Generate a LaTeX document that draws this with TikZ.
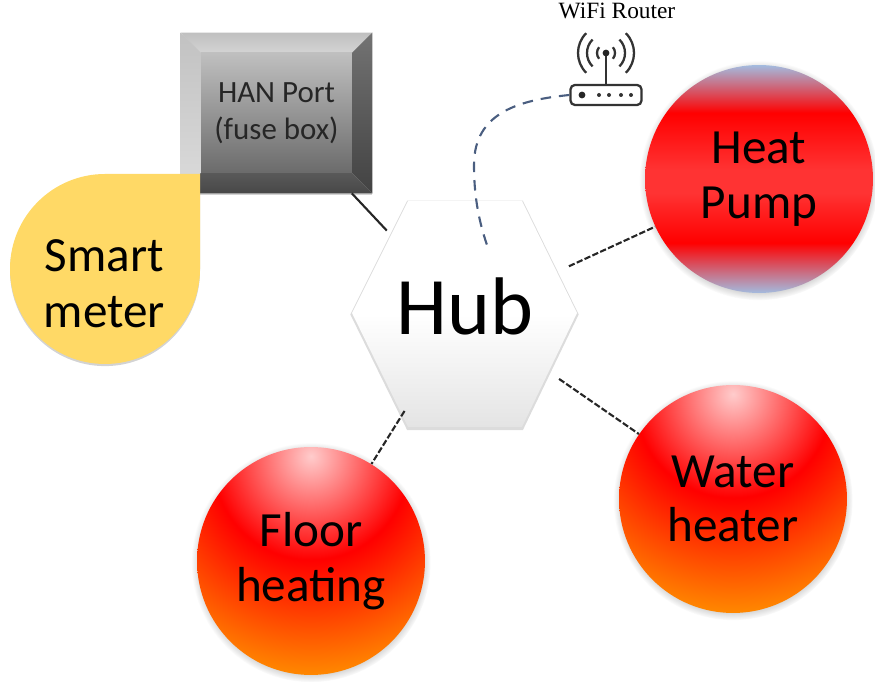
\documentclass[tikz,border=0pt]{standalone}
\usepackage{fontspec}
\setmainfont{Carlito}
\newfontfamily\routerfont{Liberation Serif}
\usetikzlibrary{shadows}
\definecolor{wifiblue}{HTML}{4A5E80}
\definecolor{meteryellow}{HTML}{FFD966}
\definecolor{pumpblue}{HTML}{A3BBDF}
\definecolor{pumpred}{HTML}{FF0000}
\definecolor{pumplight}{HTML}{FF3333}
\definecolor{ballpink}{HTML}{FFCCCC}
\definecolor{ballorange}{HTML}{FF8800}
\definecolor{hubgray}{HTML}{E4E4E4}
\pgfdeclareradialshading{heatball}{\pgfpoint{0bp}{23bp}}{color(0bp)=(ballpink);color(21.5bp)=(pumpred);color(45.4bp)=(ballorange);color(400bp)=(ballorange)}
\pgfdeclareverticalshading{pumpband}{100bp}{color(0bp)=(pumpblue);color(25bp)=(pumpblue);color(36bp)=(pumpred);color(47bp)=(pumplight);color(52bp)=(pumplight);color(64.5bp)=(pumpred);color(75bp)=(pumpblue);color(100bp)=(pumpblue)}
\pgfdeclareverticalshading{hubface}{100bp}{color(0bp)=(hubgray);color(25bp)=(hubgray);color(50bp)=(white);color(100bp)=(white)}

\begin{document}
\begin{tikzpicture}[x=0.02cm,y=0.02cm,
  softshade/.style={drop shadow={opacity=.35,shadow xshift=0pt,shadow yshift=-1.2pt}},
  hubshade/.style={drop shadow={opacity=.28,shadow scale=1.015,shadow xshift=0pt,shadow yshift=-0.8pt}},
  device/.style={circle,minimum size=4.56cm,inner sep=0pt,align=center,
    font=\fontsize{28}{31}\selectfont,
    circular drop shadow={shadow scale=1.05,shadow xshift=0pt,shadow yshift=-0.8pt,opacity=.7}},
  hubzone/.style={circle,minimum size=4.56cm,inner sep=0pt,text height=0.84cm,text depth=0cm,
    font=\fontsize{46.5}{50}\selectfont},
  bevel/.style={shade,shading angle=0},
  wire/.style={line width=1.2pt,black!85},
  link/.style={wire,dash pattern=on 3.6pt off 1.3pt},
  wave/.style={line width=1.3pt,black!80}]
\useasboundingbox (0,0) rectangle (875,682);
% fuse box
\node[minimum width=3.82cm,minimum height=3.2cm,inner sep=0pt,softshade] (hanbox) at (276.5,569) {};
\path[bevel,top color=black!25,bottom color=black!17] (hanbox.north west)--(hanbox.north east)--(352,629)--(201,629)--cycle;
\path[bevel,top color=black!24,bottom color=black!14] (hanbox.north west)--(201,629)--(201,509)--(hanbox.south west)--cycle;
\path[bevel,top color=black!55,bottom color=black!74] (hanbox.north east)--(hanbox.south east)--(352,509)--(352,629)--cycle;
\path[bevel,top color=black!65,bottom color=black!72] (hanbox.south west)--(hanbox.south east)--(352,509)--(201,509)--cycle;
\node[minimum width=3.02cm,minimum height=2.4cm,inner sep=0pt,top color=black!25,bottom color=black!58,
  align=center,text=black!85,font=\fontsize{17.6}{21}\selectfont] (han) at (276.5,569) {HAN Port\\(fuse box)};
% hub
\path[shading=hubface,hubshade]
  (352,369)--(408,481)--(522,481)--(577,369)--(522,255)--(408,255)--cycle;
\node[hubzone] (hub) at (465,368) {Hub};
% devices
\node[device,shading=pumpband] (pump) at (759,503) {Heat\\Pump};
\node[device,shading=heatball] (water) at (733,183) {Water\\heater};
\node[device,shading=heatball] (floor) at (311,121) {Floor\\heating};
% smart meter
\path[fill=meteryellow,softshade] (200,508)--(200,413) arc[start angle=0,end angle=-270,radius=95]--cycle;
\node[align=center,font=\fontsize{28}{32}\selectfont] (meter) at (104.5,398) {Smart\\meter};
% router
\node[font=\routerfont\fontsize{13.3}{15}\selectfont,inner sep=0pt] (routerlabel) at (617,671) {WiFi Router};
\node[draw=black!80,line width=1.3pt,rounded corners=2.5pt,minimum width=1.42cm,minimum height=0.4cm,inner sep=0pt] (router) at (606,587) {};
\coordinate (tip) at (606,629);
\draw[wave] (router.north)--(tip);
\fill[black!85] (tip) circle (3.4);
\fill[black!85] (582,587) circle (3.4);
\fill[black!80] (599,587) circle (2); \fill[black!80] (609,587) circle (2);
\fill[black!80] (621,587) circle (2); \fill[black!80] (631,587) circle (2);
\draw[wave] ([shift={(40:9)}]tip) arc[start angle=40,end angle=-40,radius=9];
\draw[wave] ([shift={(140:9)}]tip) arc[start angle=140,end angle=220,radius=9];
\draw[wave] ([shift={(45:19)}]tip) arc[start angle=45,end angle=-45,radius=19];
\draw[wave] ([shift={(135:19)}]tip) arc[start angle=135,end angle=225,radius=19];
\draw[wave] ([shift={(45:28)}]tip) arc[start angle=45,end angle=-45,radius=28];
\draw[wave] ([shift={(135:28)}]tip) arc[start angle=135,end angle=225,radius=28];
% connectors
\coordinate (wifiend) at (488,434);
\draw[wire] (hanbox)--(hub);
\draw[link] (hub)--(pump); \draw[link] (hub)--(water); \draw[link] (hub)--(floor);
\draw[wifiblue,line width=1.2pt,dash pattern=on 6pt off 4.5pt] (router.west) .. controls (520,582) and (474,570) .. (474,517)
  .. controls (474,482) and (480,457) .. (wifiend);
\end{tikzpicture}
\end{document}
